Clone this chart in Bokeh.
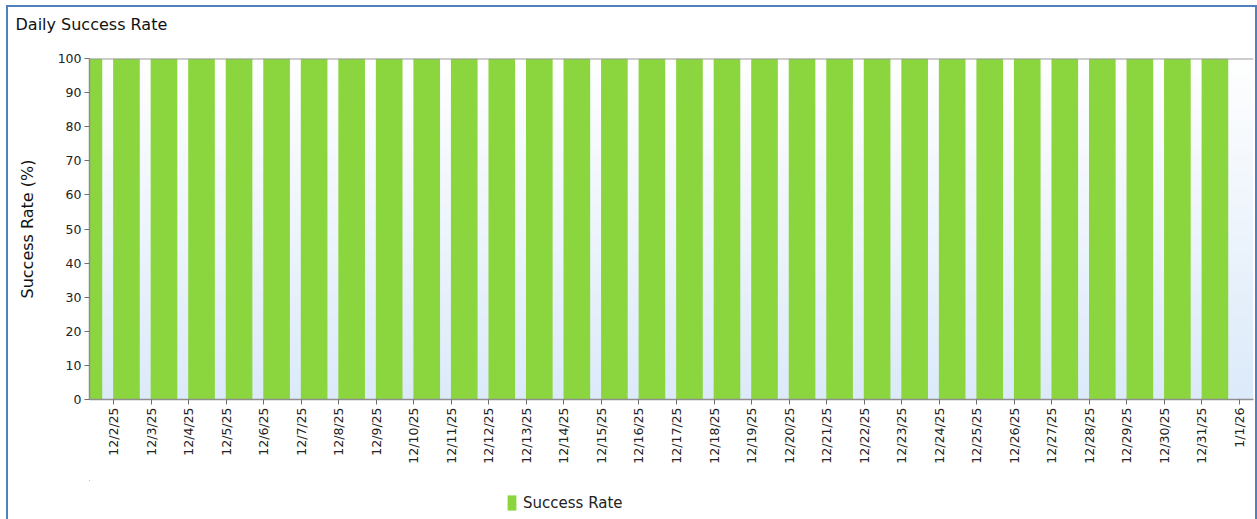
import math
import numpy as np
from bokeh.plotting import figure
from bokeh.layouts import column
from bokeh.models import (FixedTicker, Range1d, Span, Legend, LegendItem,
                          ColumnDataSource)
from bokeh.embed import file_html
from bokeh.resources import INLINE

# ---- data ----
dates = ["12/1/25", "12/2/25", "12/3/25", "12/4/25", "12/5/25", "12/6/25", "12/7/25",
         "12/8/25", "12/9/25", "12/10/25", "12/11/25", "12/12/25", "12/13/25", "12/14/25",
         "12/15/25", "12/16/25", "12/17/25", "12/18/25", "12/19/25", "12/20/25",
         "12/21/25", "12/22/25", "12/23/25", "12/24/25", "12/25/25", "12/26/25",
         "12/27/25", "12/28/25", "12/29/25", "12/30/25", "12/31/25", "1/1/26"]
success_rate = [100, 100, 100, 100, 100, 100, 100, 100, 100, 100, 100, 100, 100, 100,
                100, 100, 100, 100, 100, 100, 100, 100, 100, 100, 100, 100, 100, 100,
                100, 100, 100]
y_ticks = [0, 10, 20, 30, 40, 50, 60, 70, 80, 90, 100]

FONT = "DejaVu Sans"
BLUE = "#4F81BD"
GREEN = "#8BD63F"
W = 1247
H_TITLE, H_MAIN, H_LEG = 38, 435, 39
x0, x1 = 0.3605, 31.373

src = ColumnDataSource(dict(x=[i + 0.345 for i in range(len(success_rate))],
                            top=success_rate))

# ---- title strip ----
p0 = figure(width=W, height=H_TITLE, output_backend="svg", toolbar_location=None,
            x_range=Range1d(0, 1), y_range=Range1d(0, 1),
            x_axis_location=None, y_axis_location=None,
            min_border_left=0, min_border_right=0, min_border_top=0, min_border_bottom=0)
p0.outline_line_color = None
p0.background_fill_color = "white"
p0.border_fill_color = "white"
p0.xgrid.visible = False
p0.ygrid.visible = False
p0.title.text = "Daily Success Rate"
p0.title.align = "left"
p0.title.offset = -74
p0.title.vertical_align = "top"
p0.title.standoff = 14
p0.title.text_font = FONT
p0.title.text_font_size = "16px"
p0.title.text_font_style = "normal"
p0.title.text_color = "#111111"

# ---- main chart ----
p = figure(width=W, height=H_MAIN, output_backend="svg", toolbar_location=None,
           title=None, x_range=Range1d(x0, x1), y_range=Range1d(0, 100),
           min_border_left=81, min_border_right=2, min_border_top=13,
           min_border_bottom=81)
p.outline_line_color = None
p.background_fill_color = "white"
p.border_fill_color = "white"

# gradient background of plot area
n = 200
t = np.linspace(1, 0, n)[:, None]  # row 0 is bottom
top_c = np.array([255, 255, 255])
bot_c = np.array([220, 234, 250])
cols = (bot_c * t + top_c * (1 - t)).astype(np.uint32)
img = np.zeros((n, 1), dtype=np.uint32)
view = img.view(dtype=np.uint8).reshape((n, 1, 4))
view[:, 0, 0] = cols[:, 0]
view[:, 0, 1] = cols[:, 1]
view[:, 0, 2] = cols[:, 2]
view[:, 0, 3] = 255
p.image_rgba(image=[img], x=x0, y=0, dw=x1 - x0, dh=100)

bars = p.vbar(x="x", top="top", bottom=0, width=0.71, source=src,
              fill_color=GREEN, line_color=None)

p.xaxis.ticker = FixedTicker(ticks=list(range(1, len(dates))))
p.xaxis.major_label_overrides = {i: d for i, d in enumerate(dates)}
p.xaxis.major_label_orientation = math.pi / 2
p.yaxis.ticker = FixedTicker(ticks=y_ticks)
p.yaxis.axis_label = "Success Rate (%)"
for ax in (p.xaxis[0], p.yaxis[0]):
    ax.axis_line_color = "#8f8f8f"
    ax.axis_line_width = 1.5
    ax.major_tick_line_color = "#6f6f6f"
    ax.major_tick_out = 5
    ax.major_tick_in = 0
    ax.minor_tick_line_color = None
    ax.major_label_text_font = FONT
    ax.major_label_text_font_size = "12.5px"
    ax.major_label_text_color = "#222222"
    ax.major_label_standoff = 3
p.yaxis.axis_label_text_font = FONT
p.yaxis.axis_label_text_font_size = "16px"
p.yaxis.axis_label_text_font_style = "normal"
p.yaxis.axis_label_text_color = "#111111"
p.yaxis.axis_label_standoff = 18

p.xgrid.ticker = FixedTicker(ticks=list(range(1, len(dates))))
p.xgrid.grid_line_color = "#dde3ea"
p.ygrid.grid_line_color = None

p.add_layout(Span(location=100, dimension="width", line_color="#9a9a9a", line_width=2))

# ---- legend strip (legend proxy renderer kept outside its visible ranges) ----
p2 = figure(width=W, height=H_LEG, output_backend="svg", toolbar_location=None,
            title=None, x_range=Range1d(1000, 1001), y_range=Range1d(-1000, -999),
            x_axis_location=None, y_axis_location=None,
            min_border_left=0, min_border_right=0, min_border_top=0, min_border_bottom=0)
p2.outline_line_color = None
p2.background_fill_color = "white"
p2.border_fill_color = "white"
p2.xgrid.visible = False
p2.ygrid.visible = False
leg_r = p2.vbar(x="x", top="top", bottom=0, width=0.71, source=src,
                fill_color=GREEN, line_color=None)

legend = Legend(items=[LegendItem(label="Success Rate", renderers=[leg_r])],
                location=(417, 7), padding=0, margin=0, spacing=0,
                glyph_width=11, glyph_height=19, label_height=15, label_standoff=6,
                border_line_alpha=0, background_fill_alpha=0,
                label_text_font=FONT, label_text_font_size="15px",
                label_text_color="#222222")
p2.add_layout(legend, "center")

layout = column(p0, p, p2, spacing=0, margin=(7, 0, 0, 8),
                styles={"box-shadow": f"-2px 0 0 {BLUE}, 2px 0 0 {BLUE}, 0 -2px 0 {BLUE}, -2px -2px 0 {BLUE}, 2px -2px 0 {BLUE}"})

open("out.html", "w").write(file_html(layout, INLINE))
